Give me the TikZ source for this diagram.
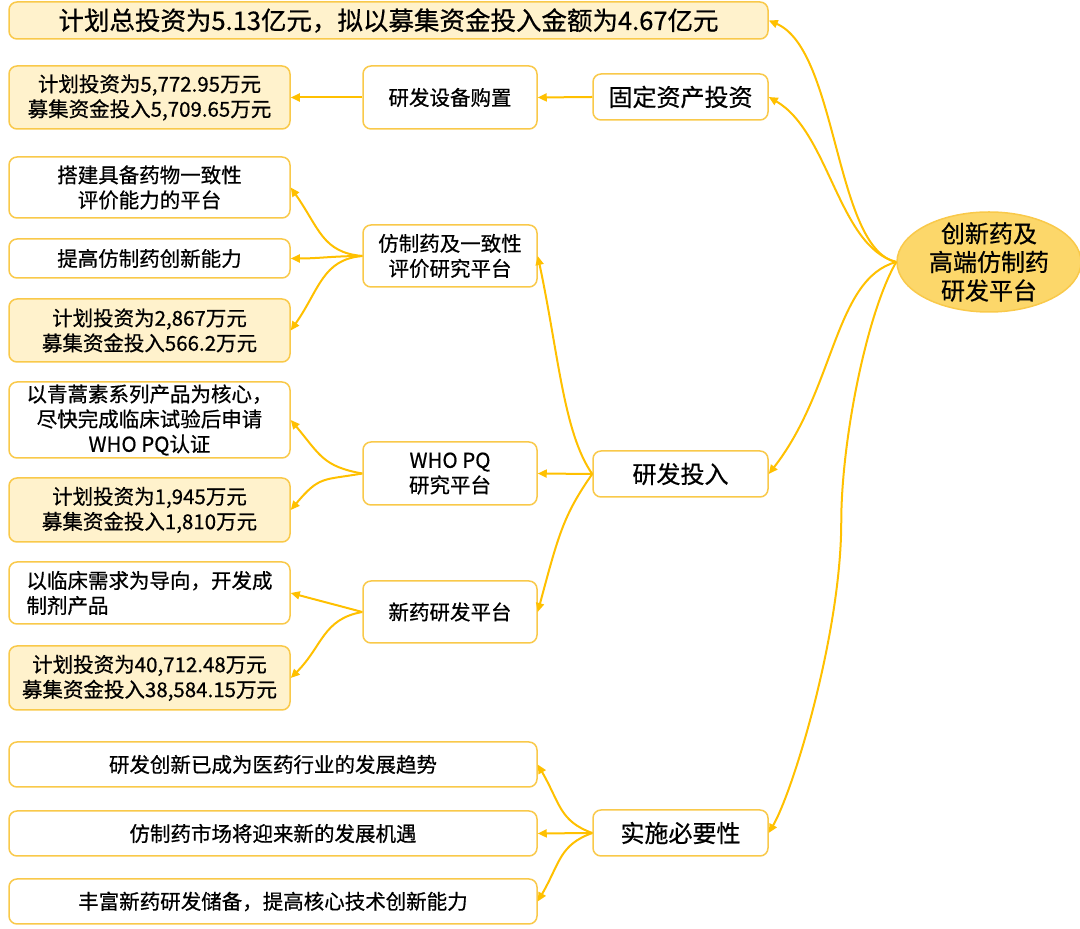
\documentclass[tikz,border=0pt]{standalone}
\usepackage{fontspec}
\setmainfont{Noto Sans CJK SC}[FakeBold=0.6]
\usetikzlibrary{shapes.geometric,arrows.meta}
\definecolor{linec}{HTML}{FFC000}
\definecolor{bordc}{HTML}{F9C94A}
\definecolor{fillc}{HTML}{FFF2CC}
\definecolor{rootc}{HTML}{FCD76A}
\begin{document}
\begin{tikzpicture}[x=1pt,y=1pt,
  box/.style={draw=bordc, line width=1.5pt, rounded corners=8pt, fill=white,
    inner sep=0pt, align=center, font=\fontsize{20.5}{25}\selectfont},
  ybox/.style={box, fill=fillc},
  bigtxt/.style={font=\fontsize{24}{28.5}\selectfont},
  wleft/.style={minimum width=281pt},
  wmid/.style={minimum width=174pt},
  wright/.style={minimum width=175pt},
  conn/.style={draw=linec, line width=2pt, -{Triangle[length=9pt,width=8pt]}},
]
\useasboundingbox (0,0) rectangle (1080,929);

% root
\node[ellipse, draw=bordc, line width=1.5pt, fill=rootc, minimum width=184pt,
      minimum height=100pt, inner sep=0pt] (root) at (989,667) {};
\node[bigtxt, align=center] (rootlbl) at (root.center) {创新药及\\高端仿制药\\研发平台};

% level 1
\node[ybox, font=\fontsize{25.5}{30}\selectfont, minimum width=759pt, minimum height=37pt] (top) at (388.5,908.5)
  {计划总投资为5.13亿元，拟以募集资金投入金额为4.67亿元};
\node[box, bigtxt, wright, minimum height=46pt] (fixed) at (680.5,832) {固定资产投资};
\node[box, bigtxt, wright, minimum height=46pt] (rd) at (680.5,455) {研发投入};
\node[box, bigtxt, wright, minimum height=46pt] (nec) at (680.5,96) {实施必要性};

% fixed asset branch
\node[box, wmid, minimum height=63pt] (equip) at (450,831.5) {研发设备购置};
\node[ybox, wleft, minimum height=63pt] (inv1) at (149.5,831.5)
  {计划投资为5,772.95万元\\募集资金投入5,709.65万元};

% R&D branch
\node[box, wmid, minimum height=62pt] (fz) at (450,673) {仿制药及一致性\\评价研究平台};
\node[box, wmid, minimum height=63pt] (who) at (450,455.5) {WHO PQ\\研究平台};
\node[box, wmid, minimum height=62pt] (xy) at (450,317) {新药研发平台};

\node[box, wleft, minimum height=61pt] (b1) at (149.5,741.5) {搭建具备药物一致性\\评价能力的平台};
\node[box, wleft, minimum height=39pt] (b2) at (149.5,670.5) {提高仿制药创新能力};
\node[ybox, wleft, minimum height=63pt] (b3) at (149.5,598.5) {计划投资为2,867万元\\募集资金投入566.2万元};

\node[box, wleft, minimum height=76pt] (c1) at (149.5,509)
  {以青蒿素系列产品为核心，\\尽快完成临床试验后申请\\WHO PQ认证};
\node[ybox, wleft, minimum height=64pt] (c2) at (149.5,419) {计划投资为1,945万元\\募集资金投入1,810万元};

\node[box, wleft, minimum height=62pt, align=left] (d1) at (149.5,336)
  {以临床需求为导向，开发成\\制剂产品};
\node[ybox, wleft, minimum height=64pt] (d2) at (149.5,251)
  {计划投资为40,712.48万元\\募集资金投入38,584.15万元};

% necessity branch
\node[box, minimum width=528pt, minimum height=45pt] (e1) at (273,164.5) {研发创新已成为医药行业的发展趋势};
\node[box, minimum width=528pt, minimum height=45pt] (e2) at (273,95.5) {仿制药市场将迎来新的发展机遇};
\node[box, minimum width=528pt, minimum height=45pt] (e3) at (273,27.5) {丰富新药研发储备，提高核心技术创新能力};

% connectors from root
\draw[conn] (root.west) .. controls +(168:63) and +(-23:75) .. (top.east);
\draw[conn] (root.west) .. controls +(165:60) and +(-30:70) .. (fixed.east);
\draw[conn] (root.west) .. controls +(195:64) and +(52:108) .. (rd.east);
\draw[conn] (root.west) .. controls +(240:60) and +(90:80) .. ++(-55,-260)
  .. controls +(-90:110) and +(60:50) .. (nec.east);

% fixed asset
\draw[conn] (fixed.west) -- (equip.east);
\draw[conn] (equip.west) -- (inv1.east);

% R&D
\draw[conn] (rd.west) .. controls +(125:50) and +(-78:100) .. (fz.east);
\draw[conn] (rd.west) -- (who.east);
\draw[conn] (rd.west) .. controls +(235:50) and +(75:80) .. (xy.east);

\draw[conn] (fz.west) .. controls +(175:40) and +(-55:50) .. (b1.east);
\draw[conn] (fz.west) to[out=180,in=0] (b2.east);
\draw[conn] (fz.west) .. controls +(185:40) and +(55:50) .. (b3.east);

\draw[conn] (who.west) .. controls +(170:40) and +(-50:45) .. (c1.east);
\draw[conn] (who.west) .. controls +(190:40) and +(50:45) .. (c2.east);

\draw[conn] (xy.west) .. controls +(165:35) and +(-15:35) .. (d1.east);
\draw[conn] (xy.west) .. controls +(190:40) and +(45:45) .. (d2.east);

% necessity
\draw[conn] (nec.west) .. controls +(160:35) and +(-60:45) .. (e1.east);
\draw[conn] (nec.west) -- (e2.east);
\draw[conn] (nec.west) .. controls +(200:35) and +(60:45) .. (e3.east);
\end{tikzpicture}
\end{document}
